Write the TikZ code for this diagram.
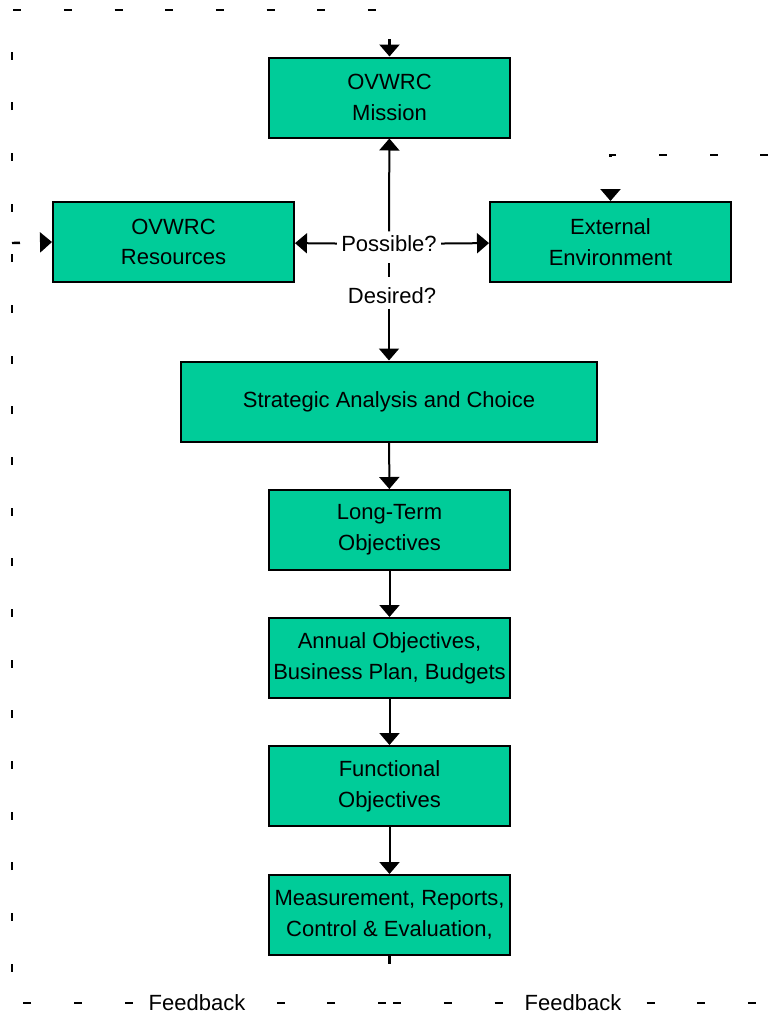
\documentclass[tikz,border=0pt]{standalone}
\usepackage{fontspec}
\setmainfont{Liberation Sans}
\usetikzlibrary{arrows.meta}

\definecolor{boxgreen}{RGB}{0,204,153}

\tikzset{every picture/.style={line width=0.75pt}}
\tikzset{
    stagebox/.style={draw=black, fill=boxgreen, line width=1.5pt, align=center,
        minimum width=180.75pt, minimum height=60pt, inner sep=2pt,
        font=\fontsize{16.5}{23}\selectfont},
    askbox/.style={fill=white, inner sep=3pt, font=\fontsize{16.5}{23}\selectfont},
    flow/.style={line width=1.5pt, -{Triangle[width=15pt,length=9pt]}},
    fb/.style={line width=1.8pt, dash pattern=on 6pt off 32pt},
}

\begin{document}
\begin{tikzpicture}[
            x=0.75pt,
            y=0.75pt,
            yscale=-1,
            xscale=1,
            every node/.style={text=black},
            line width=0.75pt
        ]
            \useasboundingbox (0,0) rectangle (770,1017);

            \node[stagebox] (mission) at (389.5,97.5) {OVWRC\\Mission};
            \node[stagebox] (resources) at (173.5,242) {OVWRC\\Resources};
            \node[stagebox] (external) at (610.5,242) {External\\Environment};
            \node[stagebox, minimum width=312pt] (strategic) at (389,401.5) {Strategic Analysis and Choice};
            \node[stagebox] (longterm) at (389.5,530) {Long-Term\\Objectives};
            \node[stagebox] (annual) at (389.5,658) {Annual Objectives,\\Business Plan, Budgets};
            \node[stagebox] (functional) at (389.5,786) {Functional\\Objectives};
            \node[stagebox] (measure) at (389.5,915) {Measurement, Reports,\\Control \& Evaluation,};

            \node[askbox] (possible) at (389,244) {Possible?};
            \node[askbox] (desired) at (392,296) {Desired?};

            % feedback corners
            \coordinate (fbbl) at (12,1003);
            \coordinate (fbtl) at (12,10);
            \coordinate (fbres) at (12,243);
            \coordinate (fbbr) at (790,1003);
            \coordinate (fbtr) at (790,155);

            \draw[flow] (possible) -- (mission);
            \draw[flow] (possible) -- (resources);
            \draw[flow] (possible) -- (external);
            \draw[line width=1.5pt, shorten <=5pt, shorten >=5pt] (possible) -- (desired.north -| possible);
            \draw[flow] (desired.south -| possible) -- (strategic);
            \draw[flow] (strategic) -- (longterm);
            \draw[flow] (longterm) -- (annual);
            \draw[flow] (annual) -- (functional);
            \draw[flow] (functional) -- (measure);

            \draw[fb, -{Triangle[width=15pt,length=9pt]}] (measure.south) |- (fbbl) -- (fbtl) -| (mission.north);
            \draw[fb, -{Triangle[width=15pt,length=9pt]}] (fbres) -- (resources.west);
            \draw[fb, -{Triangle[width=15pt,length=9pt]}] (measure.south) |- (fbbr) -- (fbtr) -| (external.north);

            \node[askbox] (fbleft) at (197,1003) {Feedback};
            \node[askbox] (fbright) at (573,1003) {Feedback};
        \end{tikzpicture}
\end{document}
